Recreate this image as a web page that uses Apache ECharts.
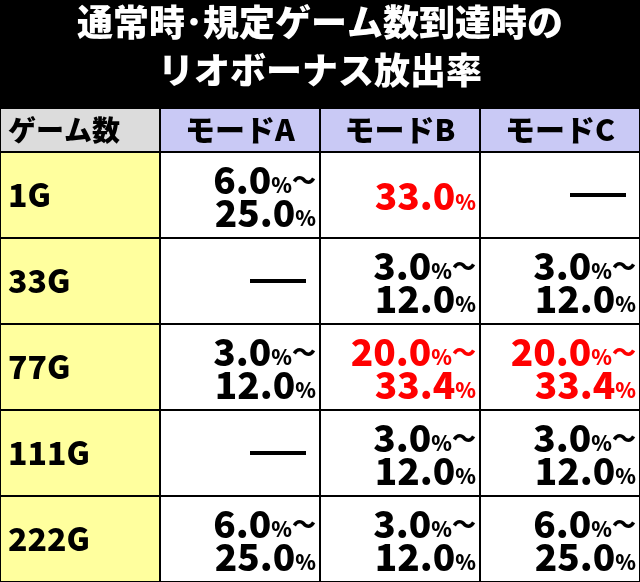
<!DOCTYPE html>
<html><head><meta charset="utf-8">
<script src="https://cdn.jsdelivr.net/npm/echarts@6/dist/echarts.min.js"></script>
<style>html,body{margin:0;background:#000}#c{width:640px;height:582px}</style></head>
<body><div id="c"></div>
<script>
const titleLines = ['通常時･規定ゲーム数到達時の', 'リオボーナス放出率'];
const cornerLabel = 'ゲーム数';
const modes = ['モードA', 'モードB', 'モードC'];
const categories = ['1G', '33G', '77G', '111G', '222G'];
const modeA = [['6.0', '25.0'], null, ['3.0', '12.0'], null, ['6.0', '25.0']];
const modeB = [['33.0'], ['3.0', '12.0'], ['20.0', '33.4'], ['3.0', '12.0'], ['3.0', '12.0']];
const modeC = [null, ['3.0', '12.0'], ['20.0', '33.4'], ['3.0', '12.0'], ['6.0', '25.0']];
const redCells = [[1, 0], [1, 2], [2, 2]]; // [modeIndex, rowIndex]

const FONT = '"Noto Sans CJK JP", sans-serif';
const modeVals = [modeA, modeB, modeC];
const cells = [];
categories.forEach((c, r) => {
  cells.push([0, r, 'label']);
  modeVals.forEach((m, k) => cells.push([k + 1, r, 'val']));
});
const headCells = [[0, 0], [1, 0], [2, 0], [3, 0]];
const isRed = (k, r) => redCells.some(p => p[0] === k && p[1] === r);

function fmt(v) {
  if (v.length === 1) return '{n|' + v[0] + '}{p|%}';
  return '{n|' + v[0] + '}{p|%}{t|～}\n{n|' + v[1] + '}{p|%}';
}

const chart = echarts.init(document.getElementById('c'));
chart.setOption({
  backgroundColor: '#000',
  animation: false,
  graphic: titleLines.map((t, i) => ({
    type: 'text', left: 'center', top: 4 + i * 48,
    style: { text: t, fill: '#fff', font: '900 36px ' + FONT }
  })),
  grid: [
    { left: 0, right: 0, top: 108, height: 44 },
    { left: 0, right: 0, top: 152, bottom: 0 }
  ],
  xAxis: [
    { type: 'category', data: [0, 1, 2, 3], gridIndex: 0, show: false },
    { type: 'category', data: [0, 1, 2, 3], gridIndex: 1, show: false }
  ],
  yAxis: [
    { type: 'category', data: [0], gridIndex: 0, show: false, inverse: true },
    { type: 'category', data: categories.map((c, i) => i), gridIndex: 1, show: false, inverse: true }
  ],
  series: [
    {
      type: 'custom', xAxisIndex: 0, yAxisIndex: 0, data: headCells,
      renderItem(params, api) {
        const col = api.value(0);
        const c = api.coord([col, 0]);
        const s = api.size([1, 1]);
        const x0 = c[0] - s[0] / 2, y0 = c[1] - s[1] / 2;
        const txt = col === 0 ? cornerLabel : modes[col - 1];
        return {
          type: 'group', children: [
            { type: 'rect', shape: { x: x0 + 1, y: y0 + 1, width: s[0] - 2, height: s[1] - 2 },
              style: { fill: col === 0 ? '#dcdcdc' : '#c9c9f5' } },
            { type: 'text', style: { text: txt, x: col === 0 ? x0 + 8 : c[0], y: c[1],
              align: col === 0 ? 'left' : 'center', verticalAlign: 'middle',
              fill: '#000', font: '900 ' + (col === 0 ? 28 : 30) + 'px ' + FONT } }
          ]
        };
      }
    },
    {
      type: 'custom', xAxisIndex: 1, yAxisIndex: 1, data: cells,
      renderItem(params, api) {
        const col = api.value(0), row = api.value(1);
        const c = api.coord([col, row]);
        const s = api.size([1, 1]);
        const x0 = c[0] - s[0] / 2, y0 = c[1] - s[1] / 2;
        const ch = [{ type: 'rect', shape: { x: x0 + 1, y: y0 + 1, width: s[0] - 2, height: s[1] - 2 },
          style: { fill: col === 0 ? '#ffff9e' : '#fff' } }];
        if (col === 0) {
          ch.push({ type: 'text', style: { text: categories[row], x: x0 + 8, y: c[1],
            align: 'left', verticalAlign: 'middle', fill: '#000', font: '900 32px ' + FONT } });
        } else {
          const v = modeVals[col - 1][row];
          const color = isRed(col - 1, row) ? '#ff0000' : '#000';
          if (!v) {
            ch.push({ type: 'rect', shape: { x: x0 + s[0] - 70, y: c[1] - 2, width: 56, height: 4 },
              style: { fill: '#000' } });
          } else {
            ch.push({ type: 'text', style: { text: fmt(v), x: x0 + s[0] - 4, y: c[1] + 1,
              align: 'right', verticalAlign: 'middle', fill: color,
              rich: {
                n: { fontFamily: FONT, fontWeight: 900, fontSize: 37, fill: color, lineHeight: 33 },
                p: { fontFamily: FONT, fontWeight: 900, fontSize: 21, fill: color, lineHeight: 33, verticalAlign: 'bottom' },
                t: { fontFamily: FONT, fontWeight: 900, fontSize: 24, fill: color, lineHeight: 33 }
              } } });
          }
        }
        return { type: 'group', children: ch };
      }
    }
  ]
});
</script></body></html>
